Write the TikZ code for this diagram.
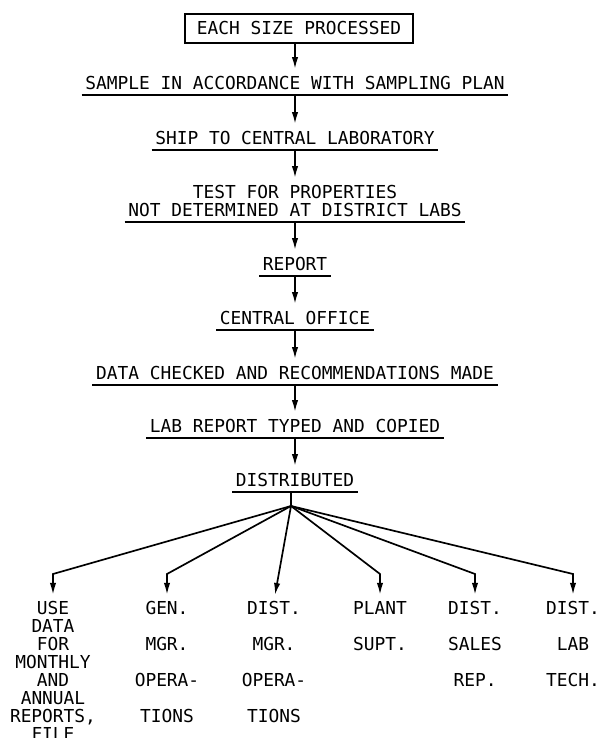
\documentclass[tikz,border=0pt]{standalone}
\usepackage{fontspec}
\newfontfamily\typewr{DejaVu Sans Mono}
\usetikzlibrary{arrows.meta}

\newcommand{\labfont}{\typewr\fontsize{12.7}{12.8}\selectfont}
\newcommand{\labwide}{\typewr\fontsize{12.7}{25.6}\selectfont}

\begin{document}
\begin{tikzpicture}[
  line width=1.2pt,
  stage/.style={font=\labfont, align=center, inner xsep=2pt, inner ysep=3pt},
  dest/.style={font=\labfont, align=center, anchor=north, inner sep=0pt},
  flow/.style={-{Latex[length=8.5pt,width=4.5pt]}, shorten >=1.5pt}
]
\useasboundingbox (0,0) rectangle (15,18.45);

% steps down the middle
\node[stage,draw,minimum width=5.7cm,minimum height=0.725cm] (box) at (7.475,17.7375) {EACH SIZE PROCESSED};
\node[stage] (s1) at (7.375,16.375) {SAMPLE IN ACCORDANCE WITH SAMPLING PLAN};
\node[stage] (s2) at (7.375,15.0) {SHIP TO CENTRAL LABORATORY};
\node[stage] (s3) at (7.375,13.425) {TEST FOR PROPERTIES\\NOT DETERMINED AT DISTRICT LABS};
\node[stage] (s4) at (7.375,11.85) {REPORT};
\node[stage] (s5) at (7.375,10.5) {CENTRAL OFFICE};
\node[stage] (s6) at (7.375,9.125) {DATA CHECKED AND RECOMMENDATIONS MADE};
\node[stage] (s7) at (7.375,7.8) {LAB REPORT TYPED AND COPIED};
\node[stage] (s8) at (7.375,6.45) {DISTRIBUTED};

\foreach \n in {s1,s2,s3,s4,s5,s6,s7,s8}
  \draw (\n.south west) -- (\n.south east);

\draw[flow] (box.south -| s1.north) -- (s1.north);
\draw[flow] (s1.south) -- (s2.north);
\draw[flow] (s2.south) -- (s3.north);
\draw[flow] (s3.south) -- (s4.north);
\draw[flow] (s4.south) -- (s5.north);
\draw[flow] (s5.south) -- (s6.north);
\draw[flow] (s6.south) -- (s7.north);
\draw[flow] (s7.south) -- (s8.north);

% receivers
\node[dest] (c1) at (1.325,3.4375) {USE\\DATA\\FOR\\MONTHLY\\AND\\ANNUAL\\REPORTS,\\FILE};
\node[dest,font=\labwide] (c2) at (4.175,3.4375) {GEN.\\MGR.\\OPERA-\\TIONS};
\node[dest,font=\labwide] (c3) at (6.85,3.4375) {DIST.\\MGR.\\OPERA-\\TIONS};
\node[dest,font=\labwide] (c4) at (9.5,3.4375) {PLANT\\SUPT.};
\node[dest,font=\labwide] (c5) at (11.875,3.4375) {DIST.\\SALES\\REP.};
\node[dest,font=\labwide] (c6) at (14.325,3.4375) {DIST.\\LAB\\TECH.};

\coordinate (fan) at (7.275,5.8);
\coordinate (bendrow) at (0,4.1);
\draw (s8.south -| fan) -- (fan);
\foreach \c in {c1,c2,c4,c5,c6}
  \draw[flow,shorten >=4pt] (fan) -- (\c.north |- bendrow) -- (\c.north);
\draw[flow,shorten >=4pt] (fan) -- (c3.north);

\end{tikzpicture}
\end{document}
